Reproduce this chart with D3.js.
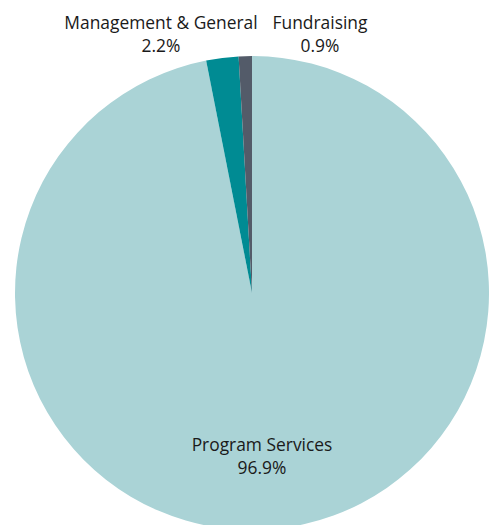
<!DOCTYPE html>
<html>
<head>
<meta charset="utf-8">
<style>
  body { margin: 0; background: #fff; }
  text { font-family: "Open Sans", sans-serif; fill: #1a1a1a; }
</style>
<script src="https://d3js.org/d3.v7.min.js"></script>
</head>
<body>
<div id="chart"></div>
<script>
  var categories = ["Program Services", "Management & General", "Fundraising"];
  var values = [96.9, 2.2, 0.9];
  var colors = ["#aad3d6", "#008b93", "#535b69"];

  var width = 489, height = 525;
  var cx = 252, cy = 293, radius = 237;

  var svg = d3.select("#chart").append("svg")
    .attr("width", width)
    .attr("height", height);

  var pie = d3.pie().sort(null).value(function(d) { return d; });
  var arc = d3.arc().innerRadius(0).outerRadius(radius);

  var g = svg.append("g")
    .attr("transform", "translate(" + cx + "," + cy + ")");

  g.selectAll("path")
    .data(pie(values))
    .enter().append("path")
      .attr("d", arc)
      .attr("fill", function(d, i) { return colors[i]; });

  // label anchor points (absolute)
  var labelPos = [
    { x: 262, y: 451 },
    { x: 161, y: 29 },
    { x: 320, y: 29 }
  ];

  var lab = svg.selectAll(".lab")
    .data(categories)
    .enter().append("text")
      .attr("class", "lab")
      .attr("text-anchor", "middle")
      .attr("font-size", 17.4)
      .attr("x", function(d, i) { return labelPos[i].x; })
      .attr("y", function(d, i) { return labelPos[i].y; });

  lab.append("tspan")
    .attr("x", function(d, i) { return labelPos[i].x; })
    .text(function(d) { return d; });
  lab.append("tspan")
    .attr("x", function(d, i) { return labelPos[i].x; })
    .attr("dy", 23)
    .text(function(d, i) { return values[i].toFixed(1) + "%"; });
</script>
</body>
</html>
